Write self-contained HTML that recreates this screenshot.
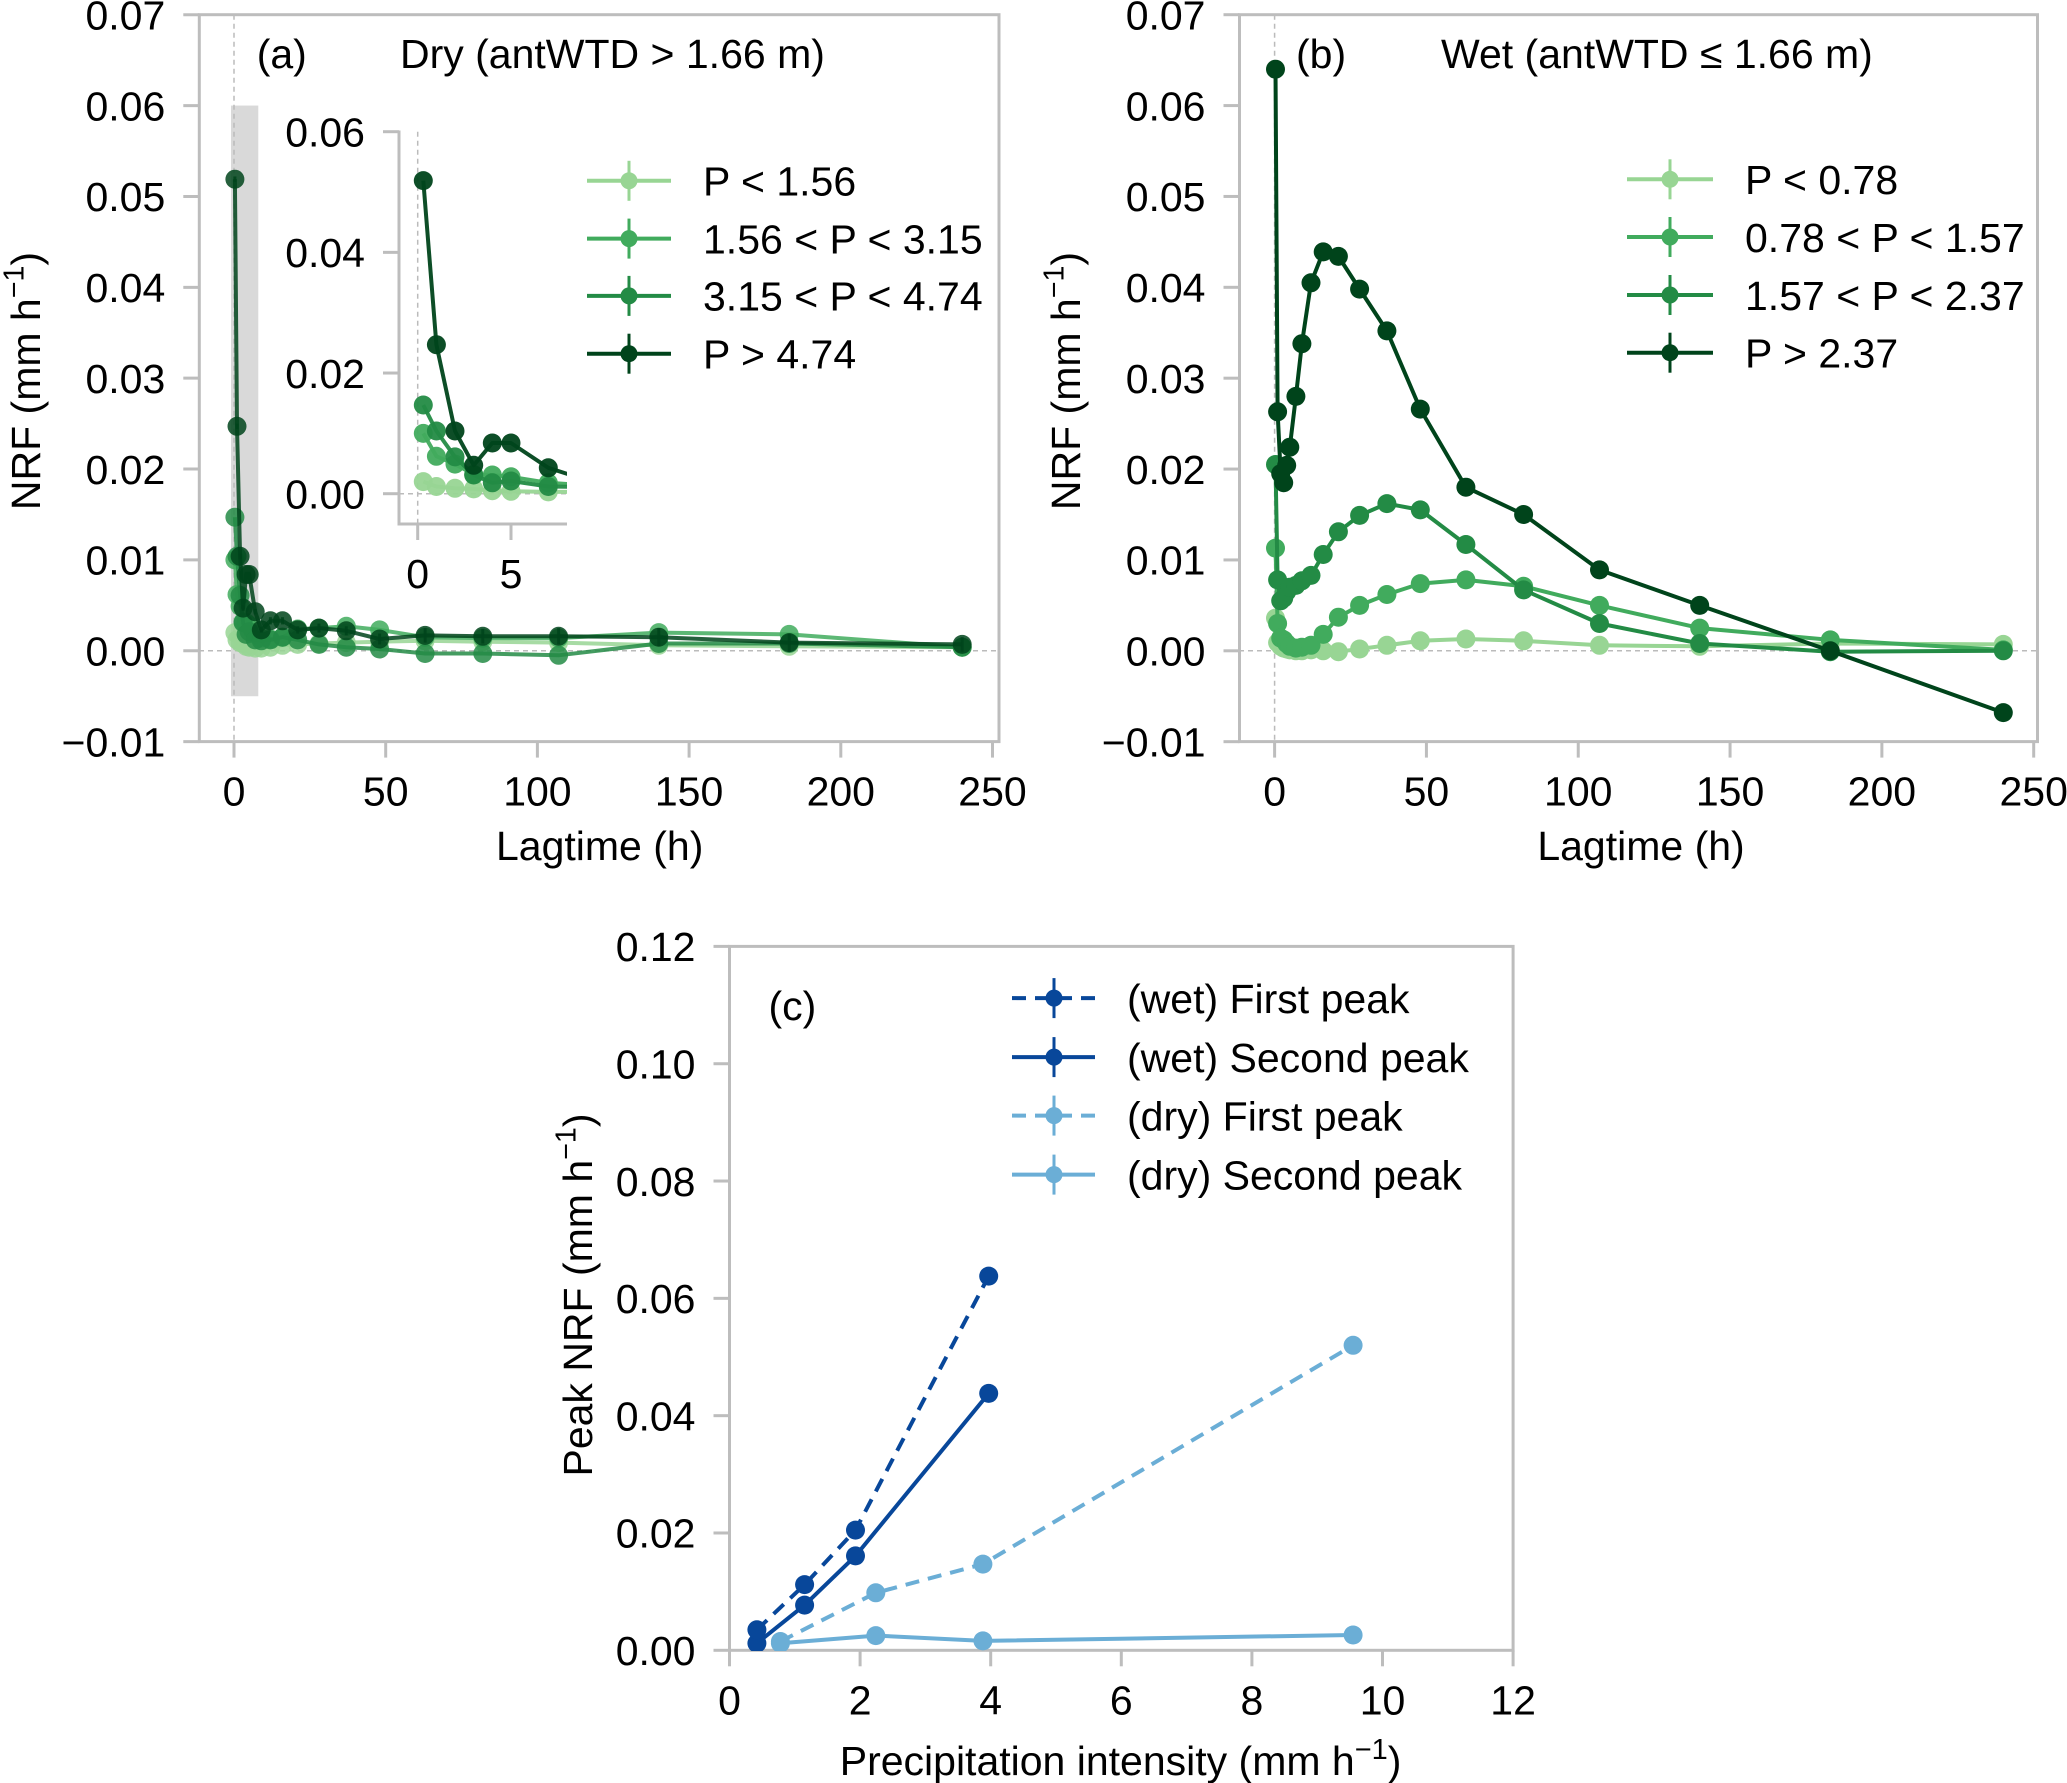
<!DOCTYPE html>
<html><head><meta charset="utf-8"><style>
html,body{margin:0;padding:0;background:#fff}
svg{display:block;font-family:"Liberation Sans",sans-serif}
</style></head><body>
<svg id="fig" width="2067" height="1783" viewBox="0 0 2067 1783" xmlns="http://www.w3.org/2000/svg">
<defs>
<clipPath id="clipA"><rect x="199" y="14" width="801" height="728"/></clipPath>
<clipPath id="clipB"><rect x="1239" y="14" width="800" height="728"/></clipPath>
<clipPath id="clipI"><rect x="399" y="100" width="168" height="424"/></clipPath>
<clipPath id="clipC"><rect x="729" y="946" width="785" height="705"/></clipPath>
</defs>
<g id="root"></g>
</svg>
<script>
// ---- data ----
const lags = [0.3,1,2,3,4,5,7,9,12,16,21,28,37,48,63,82,107,140,183,240];
const dryLabels = ["P < 1.56","1.56 < P < 3.15","3.15 < P < 4.74","P > 4.74"];
const dry1 = [0.0020,0.0012,0.0009,0.0008,0.0005,0.0004,0.0003,0.0003,0.0004,0.0006,0.0007,0.0008,0.0009,0.0010,0.0011,0.0010,0.0009,0.0006,0.0005,0.0004];
const dry2 = [0.0100,0.0062,0.0049,0.0032,0.0031,0.0028,0.0018,0.0014,0.0013,0.0015,0.0024,0.0025,0.0027,0.0023,0.0015,0.0014,0.0014,0.0020,0.0018,0.0004];
const dry3 = [0.0147,0.0104,0.0061,0.0031,0.0018,0.0021,0.0012,0.0011,0.0012,0.0015,0.0012,0.0007,0.0004,0.0002,-0.0003,-0.0003,-0.0005,0.0008,0.0008,0.0004];
const dry4 = [0.0519,0.0247,0.0104,0.0047,0.0084,0.0084,0.0043,0.0023,0.0033,0.0033,0.0023,0.0025,0.0022,0.0013,0.0017,0.0016,0.0016,0.0015,0.0009,0.0007];
const wetLabels = ["P < 0.78","0.78 < P < 1.57","1.57 < P < 2.37","P > 2.37"];
const wet1 = [0.0036,0.0009,0.0005,0.0003,0.0002,0.0001,0.0000,0.0000,0.0001,0.0000,-0.0001,0.0002,0.0006,0.0011,0.0013,0.0011,0.0006,0.0005,0.0008,0.0007];
const wet2 = [0.0113,0.0030,0.0014,0.0012,0.0008,0.0005,0.0003,0.0004,0.0006,0.0018,0.0037,0.0050,0.0062,0.0074,0.0078,0.0071,0.0050,0.0025,0.0012,0.0001];
const wet3 = [0.0205,0.0078,0.0055,0.0058,0.0065,0.0070,0.0072,0.0077,0.0083,0.0106,0.0131,0.0149,0.0162,0.0155,0.0117,0.0067,0.0030,0.0008,-0.0001,0.0000];
const wet4 = [0.0640,0.0263,0.0195,0.0185,0.0204,0.0224,0.0280,0.0338,0.0405,0.0439,0.0434,0.0398,0.0352,0.0266,0.0180,0.0150,0.0089,0.0050,0.0000,-0.0068];
const errBar = [0.0003,0.0003,0.0003,0.0003,0.0003,0.0003,0.0003,0.0003,0.0004,0.0004,0.0004,0.0005,0.0005,0.0006,0.0008,0.0008,0.0009,0.0010,0.0010,0.0008];
const cPrecipWet = [0.42,1.15,1.93,3.97];
const cPrecipDry = [0.78,2.24,3.88,9.55];
const wetFirst = [0.0035,0.0112,0.0205,0.0638];
const wetSecond = [0.0012,0.0077,0.0161,0.0438];
const dryFirst = [0.0015,0.0098,0.0147,0.0520];
const drySecond = [0.0012,0.0025,0.0016,0.0026];
const xTicksAB = [0,50,100,150,200,250];
const yTicksAB = [-0.01,0,0.01,0.02,0.03,0.04,0.05,0.06,0.07];
const yTicksInset = [0,0.02,0.04,0.06];
const xTicksInset = [0,5];
const xTicksC = [0,2,4,6,8,10,12];
const yTicksC = [0,0.02,0.04,0.06,0.08,0.10,0.12];

const greens = ["#98d594","#41ab5d","#238b45","#00441b"];
const NS = "http://www.w3.org/2000/svg";
const root = document.getElementById('root');
function el(tag, attrs, parent){const e=document.createElementNS(NS,tag);for(const k in attrs)e.setAttribute(k,attrs[k]);(parent||root).appendChild(e);return e;}
function lin(d0,d1,p0,p1){return v=>p0+(v-d0)*(p1-p0)/(d1-d0);}
const GRID="#bdbdbd";

function axes(o){
  const g=el('g',{});
  
  
  el('rect',{x:o.x0,y:o.y0,width:o.x1-o.x0,height:o.y1-o.y0,fill:'none',stroke:GRID,'stroke-width':o.sw||3},g);
  o.xticks.forEach(t=>{const x=o.xs(t);
    el('line',{x1:x,x2:x,y1:o.y1,y2:o.y1+o.tl,stroke:GRID,'stroke-width':o.sw||3},g);
    const tx=el('text',{x:x,y:o.y1+o.xlOff,'font-size':o.fs,'text-anchor':'middle'},g);
    
    
    tx.textContent=o.xfmt(t);});
  o.yticks.forEach(t=>{const y=o.ys(t);
    el('line',{x1:o.x0-o.tl,x2:o.x0,y1:y,y2:y,stroke:GRID,'stroke-width':o.sw||3},g);
    const tx=el('text',{x:o.x0-o.ylOff,y:y+o.fs*0.36,'font-size':o.fs,'text-anchor':'end'},g);
    
    
    tx.textContent=o.yfmt(t);});
  return g;
}
function series(xs,ys,X,Y,color,opts){
  const g=el('g',{'clip-path':opts.clip?'url(#'+opts.clip+')':''});
  
  
  const pts=X.map((x,i)=>xs(x).toFixed(1)+','+ys(Y[i]).toFixed(1)).join(' ');
  el('polyline',{points:pts,fill:'none',stroke:color,'stroke-width':opts.lw||4,'stroke-dasharray':opts.dash||'none','stroke-linejoin':'round','opacity':opts.alpha||1},g);
  X.forEach((x,i)=>{
    if(opts.err){const e=opts.err[i];
      el('line',{x1:xs(x),x2:xs(x),y1:ys(Y[i]-e),y2:ys(Y[i]+e),stroke:color,'stroke-width':3,opacity:opts.alpha||1},g);}
    const c=el('circle',{cx:xs(x).toFixed(1),cy:ys(Y[i]).toFixed(1),r:opts.r||9.5,fill:color,opacity:opts.alpha||1},g);
    
    
  });
}
function legend(items,x0,x1,xm,xt,ys,fs,name){
  const g=el('g',{});
  
  
  items.forEach((it,i)=>{const y=ys[i];
    const ge=el('g',{},g);
    
    
    el('line',{x1:x0,x2:x1,y1:y,y2:y,stroke:it.c,'stroke-width':4,'stroke-dasharray':it.dash||'none'},ge);
    el('line',{x1:xm,x2:xm,y1:y-20,y2:y+20,stroke:it.c,'stroke-width':3},ge);
    el('circle',{cx:xm,cy:y,r:8.5,fill:it.c},ge);
    const t=el('text',{x:xt,y:y+fs*0.36,'font-size':fs},ge);
    t.textContent=it.t;});
}
function text(x,y,s,fs,name,anchor){const t=el('text',{x:x,y:y,'font-size':fs,'text-anchor':anchor||'start'});
  
  
  t.textContent=s;return t;}
function ylabel(x,y,fs,main,name){
  const t=el('text',{transform:'translate('+x+','+y+') rotate(-90)','font-size':fs,'text-anchor':'middle'});
  
  
  t.appendChild(document.createTextNode(main+' (mm h'));
  const s=document.createElementNS(NS,'tspan');s.setAttribute('dy',-fs*0.4);s.setAttribute('font-size',fs*0.7);s.textContent='\u22121';t.appendChild(s);
  const s2=document.createElementNS(NS,'tspan');s2.setAttribute('dy',fs*0.4);s2.textContent=')';t.appendChild(s2);
}
const f2=v=>v.toFixed(2).replace('-','\u2212');
const FS=41;

// ---- Panel A ----
const yA=lin(0,0.07,650.8,14.7);
const xA=lin(0,250,234,992.5);
el('rect',{x:xA(-1),y:yA(0.06),width:xA(8)-xA(-1),height:yA(-0.005)-yA(0.06),fill:'#d9d9d9'});
el('line',{x1:xA(0),x2:xA(0),y1:14.7,y2:741.6,stroke:'#bbb','stroke-width':1.5,'stroke-dasharray':'5,4'});
el('line',{x1:199,x2:1000,y1:yA(0),y2:yA(0),stroke:'#bbb','stroke-width':1.5,'stroke-dasharray':'5,4'});
axes({name:'panel-a',x0:199.3,x1:999,y0:14.7,y1:741.6,xs:xA,ys:yA,xticks:xTicksAB,yticks:yTicksAB,tl:16,fs:FS,xlOff:64,ylOff:34,xfmt:v=>String(v),yfmt:f2});
[dry1,dry2,dry3,dry4].forEach((d,i)=>series(xA,yA,lags,d,greens[i],{clip:'clipA',name:'dry-series-'+(i+1),alpha:0.85,err:i==3?errBar:null}));
text(256.7,68,'(a)',FS,'panel-a-label');
text(400,68,'Dry (antWTD > 1.66 m)',FS,'panel-a-title');
legend(dryLabels.map((t,i)=>({t:t,c:greens[i]})),587,671,629,703,[180.8,238.6,295.9,353.7],FS,'legend-a');
text(599.7,860,'Lagtime (h)',FS,'x-axis-title-a','middle');
ylabel(40,381,FS,'NRF','y-axis-title-a');

// ---- Inset ----
const xI=lin(0,5,417.7,511);
const yI=lin(0,0.06,493.7,131.7);
el('line',{x1:xI(0),x2:xI(0),y1:131.7,y2:524,stroke:'#bbb','stroke-width':1.5,'stroke-dasharray':'5,4'});
el('line',{x1:399,x2:567,y1:yI(0),y2:yI(0),stroke:'#bbb','stroke-width':1.5,'stroke-dasharray':'5,4'});
(function(){
  const g=el('g',{});
  
  
  el('polyline',{points:'399,130.5 399,524 567,524',fill:'none',stroke:GRID,'stroke-width':3},g);
  yTicksInset.forEach(t=>{el('line',{x1:383,x2:399,y1:yI(t),y2:yI(t),stroke:GRID,'stroke-width':3},g);
    const tx=el('text',{x:365,y:yI(t)+FS*0.36,'font-size':FS,'text-anchor':'end'},g);tx.textContent=f2(t);});
  xTicksInset.forEach(t=>{el('line',{x1:xI(t),x2:xI(t),y1:524,y2:540,stroke:GRID,'stroke-width':3},g);
    const tx=el('text',{x:xI(t),y:588,'font-size':FS,'text-anchor':'middle'},g);tx.textContent=String(t);});
})();
[dry1,dry2,dry3,dry4].forEach((d,i)=>series(xI,yI,lags,d,greens[i],{clip:'clipI',name:'inset-series-'+(i+1),alpha:0.95}));

// ---- Panel B ----
const xB=lin(0,250,1274.6,2033.7);
const yB=yA;
el('line',{x1:xB(0),x2:xB(0),y1:14.7,y2:741.6,stroke:'#bbb','stroke-width':1.5,'stroke-dasharray':'5,4'});
el('line',{x1:1239,x2:2038,y1:yB(0),y2:yB(0),stroke:'#bbb','stroke-width':1.5,'stroke-dasharray':'5,4'});
axes({name:'panel-b',x0:1239.5,x1:2037.5,y0:14.7,y1:741.6,xs:xB,ys:yB,xticks:xTicksAB,yticks:yTicksAB,tl:16,fs:FS,xlOff:64,ylOff:34,xfmt:v=>String(v),yfmt:f2});
[wet1,wet2,wet3,wet4].forEach((d,i)=>series(xB,yB,lags,d,greens[i],{clip:'clipB',name:'wet-series-'+(i+1),err:i==3?errBar:null}));
text(1296,68,'(b)',FS,'panel-b-label');
text(1441,68,'Wet (antWTD \u2264 1.66 m)',FS,'panel-b-title');
legend(wetLabels.map((t,i)=>({t:t,c:greens[i]})),1627,1713,1670,1745,[179.3,237,295,352.7],FS,'legend-b');
text(1641,860,'Lagtime (h)',FS,'x-axis-title-b','middle');
ylabel(1080,381,FS,'NRF','y-axis-title-b');

// ---- Panel C ----
const xC=lin(0,12,729.5,1513.1);
const yC=lin(0,0.12,1650.3,946.4);
axes({name:'panel-c',x0:729.5,x1:1513.1,y0:946.4,y1:1650.3,xs:xC,ys:yC,xticks:xTicksC,yticks:yTicksC,tl:16,fs:FS,xlOff:64,ylOff:34,xfmt:v=>String(v),yfmt:f2});
const dblue="#08479a", lblue="#6baed6";
series(xC,yC,cPrecipDry,drySecond,lblue,{clip:'clipC',name:'dry-second-peak'});
series(xC,yC,cPrecipDry,dryFirst,lblue,{clip:'clipC',name:'dry-first-peak',dash:'14,9'});
series(xC,yC,cPrecipWet,wetSecond,dblue,{clip:'clipC',name:'wet-second-peak'});
series(xC,yC,cPrecipWet,wetFirst,dblue,{clip:'clipC',name:'wet-first-peak',dash:'14,9'});
text(768.5,1020,'(c)',FS,'panel-c-label');
legend([{t:'(wet) First peak',c:dblue,dash:'14,9'},{t:'(wet) Second peak',c:dblue},{t:'(dry) First peak',c:lblue,dash:'14,9'},{t:'(dry) Second peak',c:lblue}],1012,1095,1054,1127,[998.1,1057.1,1115.6,1174.6],FS,'legend-c');
(function(){
  const t=el('text',{x:1120.6,y:1775,'font-size':FS,'text-anchor':'middle'});
  
  
  t.appendChild(document.createTextNode('Precipitation intensity (mm h'));
  const s=document.createElementNS(NS,'tspan');s.setAttribute('dy',-16);s.setAttribute('font-size',29);s.textContent='\u22121';t.appendChild(s);
  const s2=document.createElementNS(NS,'tspan');s2.setAttribute('dy',16);s2.textContent=')';t.appendChild(s2);
})();
ylabel(592,1295,FS,'Peak NRF','y-axis-title-c');
</script>
</body></html>
